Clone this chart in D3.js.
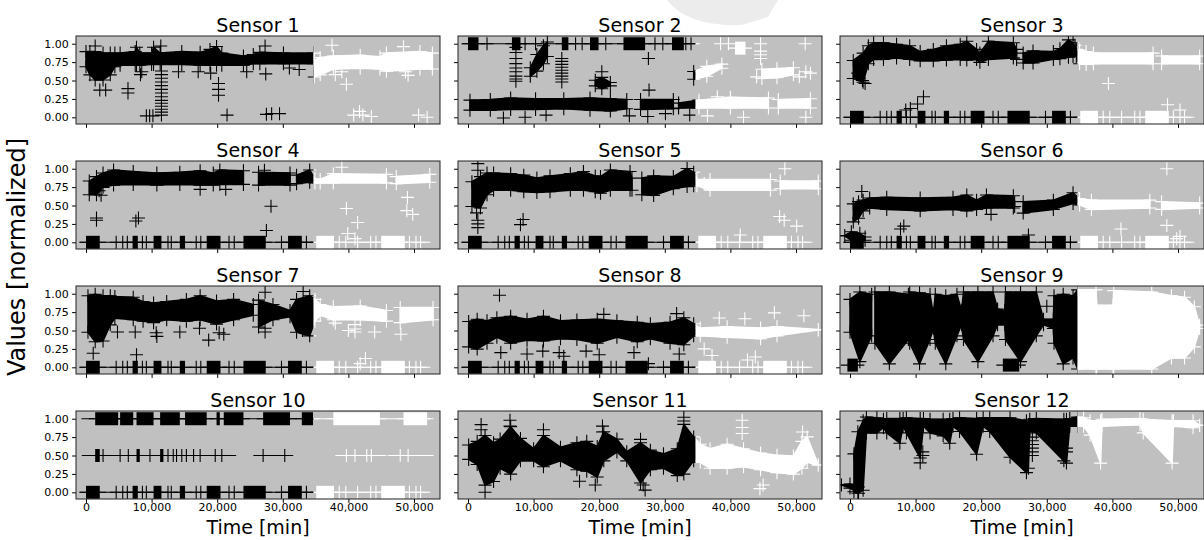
<!DOCTYPE html>
<html>
<head>
<meta charset="utf-8">
<script src="https://cdn.jsdelivr.net/npm/d3@7"></script>
<style>
  body { margin: 0; background: #fff; }
  text { font-family: "DejaVu Sans", sans-serif; fill: #000; }
</style>
</head>
<body>
<svg id="chart" width="1204" height="540"></svg>
<script>
// readings before SPLIT are the training part (black), after it the test part (white)
const SPLIT = 34700;
const xTicks = [0, 10000, 20000, 30000, 40000, 50000];
const yTicks = [0, 0.25, 0.5, 0.75, 1];

// machine stops: the same for several sensors (value 0)
const stopRuns = [[0, 2100], [7100, 7900], [10300, 11500], [14300, 15100], [18400, 20500],
  [24000, 27400], [30800, 32900], [35100, 37800], [45000, 48600]];
const stopTicks = [4600, 5600, 6300, 8600, 9200, 12500, 13000, 16800, 17500, 21800, 22600,
  29800, 33600, 38600, 39600, 41400, 43400, 44200, 49300, 50300, 51000];

// bands: [time, low, high], null breaks a band
const band1 = [[0, 0.66, 0.92], [600, 0.55, 0.92], [1400, 0.48, 0.92], [2600, 0.48, 0.90], [3700, 0.55, 0.90],
  [4400, 0.66, 0.90], [5200, 0.68, 0.90], [7500, 0.68, 0.92], [7700, 0.68, 0.98], [8200, 0.68, 0.90],
  [10000, 0.69, 0.90], [10300, 0.69, 0.98], [11300, 0.69, 0.90], [14600, 0.69, 0.92], [17400, 0.68, 0.91],
  [18900, 0.68, 0.95], [19900, 0.68, 0.99], [20700, 0.68, 0.90], [24000, 0.68, 0.86], [25500, 0.70, 0.88],
  [26500, 0.70, 0.91], [30100, 0.70, 0.90], [34700, 0.70, 0.90], [34800, 0.52, 0.80], [35700, 0.55, 0.84],
  [37700, 0.63, 0.86], [41800, 0.64, 0.87], [44800, 0.63, 0.85], [45800, 0.60, 0.90], [50900, 0.63, 0.92],
  [52800, 0.63, 0.90]];
const plus1 = [[1400, 0.97], [1500, 0.80], [2100, 0.37], [3000, 0.37], [6400, 0.39], [6400, 0.33], [8300, 0.58],
  [8500, 0.62], [9200, 0.02], [9700, 0.02], [10200, 0.02], [20200, 0.46], [20200, 0.38], [20200, 0.30],
  [21500, 0.03], [27300, 0.97], [27400, 0.59], [27500, 0.04], [28300, 0.05], [29500, 0.05], [14100, 0.62],
  [17100, 0.62], [19000, 0.60], [24500, 0.62], [31000, 0.67], [32500, 0.65], [11400, 0.97],
  [11500, 0.03], [11500, 0.07], [11500, 0.11], [11500, 0.15], [11500, 0.19], [11500, 0.23], [11500, 0.28],
  [11500, 0.33], [11500, 0.38], [11500, 0.43], [11500, 0.48], [11500, 0.53], [11500, 0.58], [11500, 0.63],
  [37500, 0.98], [38000, 0.70], [39700, 0.45], [38000, 0.58], [40800, 0.03], [41700, 0.08], [42200, 0.03],
  [43500, 0.01], [48400, 0.96], [49100, 0.57], [48700, 0.62], [50700, 0.03], [52000, 0.0], [39000, 0.62]];

const band2 = [[300, 0.07, 0.26], [3400, 0.07, 0.27], [6500, 0.08, 0.29], [10300, 0.08, 0.28], [14600, 0.09, 0.28],
  [18600, 0.07, 0.29], [21700, 0.06, 0.28], [24200, 0.09, 0.27], null,
  [26300, 0.08, 0.27], [31300, 0.09, 0.27], null,
  [32100, 0.10, 0.22], [35200, 0.10, 0.26], [40000, 0.10, 0.30], [45800, 0.10, 0.29], null,
  [47300, 0.10, 0.27], [52200, 0.10, 0.28], null,
  [9500, 0.53, 0.70], [10500, 0.60, 0.88], [11500, 0.70, 1.0], [12100, 0.80, 1.05], null,
  [19400, 0.40, 0.53], [20400, 0.36, 0.57], [21700, 0.40, 0.50], null,
  [34400, 0.49, 0.65], [36400, 0.53, 0.72], [38700, 0.64, 0.75], null,
  [44800, 0.50, 0.68], [47100, 0.51, 0.69], [49600, 0.55, 0.70]];
const runs2 = [[0, 1600, 1], [6700, 8000, 1], [14300, 15300, 1], [18600, 19900, 1], [23700, 27000, 1],
  [31100, 32900, 1], [40700, 42300, 0.94]];
const lines2 = [[100, 34400, 1]];
const plus2 = [[2900, 1], [8700, 1], [10300, 1], [16400, 1], [17400, 1], [21000, 1], [28500, 1], [29700, 1],
  [33200, 1], [34000, 1], [7300, 0.95], [7300, 0.88], [7300, 0.80], [7300, 0.73], [7300, 0.67], [7300, 0.62],
  [7300, 0.56], [7300, 0.52], [7300, 0.49], [14300, 0.80], [14300, 0.76], [14300, 0.72], [14300, 0.68],
  [14300, 0.64], [14300, 0.60], [14300, 0.56], [14300, 0.52], [14300, 0.48], [20400, 0.62], [27500, 0.80],
  [27600, 0.37], [5400, -0.01], [8700, 0.0], [11900, 0.03], [24600, 0.02], [27400, 0.01], [30100, 0.05],
  [33800, 0.03], [38500, 1.0], [39700, 1.0], [44600, 1.0], [51400, 1.0], [44600, 0.90], [44600, 0.85],
  [44600, 0.80], [44000, 0.55], [51500, 0.62], [52200, 0.60], [50500, 0.55], [36500, 0.02], [42000, 0.0],
  [51500, 0.0], [38000, 0.28]];

const band3 = [[500, 0.50, 0.80], [2000, 0.45, 0.90], [2800, 0.70, 1.00], [3600, 0.76, 1.04], [5100, 0.76, 1.04],
  [7100, 0.78, 1.02], [9100, 0.76, 1.00], [10700, 0.74, 0.92], [12700, 0.74, 0.95], [14700, 0.75, 1.00],
  [16800, 0.76, 1.02], [17800, 0.75, 1.06], [19300, 0.76, 0.95], [19800, 0.72, 0.90], [21100, 0.76, 1.06],
  [24900, 0.78, 1.04], [25400, 0.76, 0.95], null,
  [26400, 0.71, 0.90], [27900, 0.71, 0.93], [31000, 0.76, 0.92], [32000, 0.77, 0.96], [33300, 0.79, 1.08],
  [34000, 0.80, 1.04], [34500, 0.80, 0.95], [35000, 0.70, 0.94], [36000, 0.69, 0.92], [37100, 0.70, 0.90],
  [46200, 0.70, 0.90], null,
  [47500, 0.70, 0.86], [53300, 0.70, 0.86]];
const plus3 = [[11200, 0.28], [10300, 0.18], [9200, 0.12], [8500, 0.10], [2300, 0.46], [1900, 0.50], [1200, 0.60],
  [39400, 0.46], [48400, 0.17], [50300, 0.10], [34300, 0.98]];

const band4 = [[500, 0.62, 0.86], [1600, 0.62, 0.92], [2600, 0.72, 0.97], [4200, 0.75, 1.01], [7200, 0.76, 0.99],
  [10800, 0.75, 0.97], [14300, 0.76, 0.98], [17400, 0.75, 1.0], [19400, 0.75, 0.97], [20400, 0.76, 1.01],
  [24000, 0.76, 1.0], null,
  [26300, 0.75, 0.98], [31100, 0.75, 0.97], null,
  [32100, 0.77, 0.94], [34100, 0.79, 1.01], [34900, 0.78, 0.89], [35700, 0.78, 0.88], [37700, 0.78, 0.96],
  [45800, 0.78, 0.95], null,
  [47300, 0.77, 0.92], [52400, 0.79, 0.95]];
const plus4 = [[1600, 0.33], [1600, 0.30], [8000, 0.33], [7600, 0.29], [28200, 0.49], [27500, 0.16], [2300, 0.64],
  [2000, 0.70], [17400, 0.72], [21300, 0.72], [27200, 0.98], [39700, 0.46], [41400, 0.27], [49000, 0.61],
  [48900, 0.43], [49800, 0.38], [39900, 0.12], [41000, 0.05], [39000, 1.02]];

const band5 = [[600, 0.46, 0.85], [1900, 0.44, 0.92], [2900, 0.62, 0.97], [3900, 0.68, 0.97], [6500, 0.68, 0.96],
  [8500, 0.66, 0.94], [10500, 0.65, 0.90], [12500, 0.66, 0.93], [15600, 0.68, 0.96], [17600, 0.68, 0.99],
  [19400, 0.66, 0.93], [20200, 0.64, 0.92], [21700, 0.68, 1.01], [24700, 0.68, 0.99], [25000, 0.68, 0.90], null,
  [26500, 0.62, 0.90], [28300, 0.61, 0.93], [31300, 0.70, 0.92], [33400, 0.73, 1.03], [34400, 0.74, 0.98],
  [34900, 0.74, 0.88], [36900, 0.68, 0.88], [46100, 0.68, 0.88], null,
  [47600, 0.70, 0.86], [53400, 0.70, 0.86]];
const plus5 = [[1500, 1.07], [1500, 0.98], [1500, 0.30], [1500, 0.25], [1500, 0.20], [1300, 0.40], [8400, 0.31],
  [8000, 0.24], [48300, 1.0], [48200, 0.30], [50100, 0.22], [41500, 0.10], [47500, 0.35], [36000, 0.80]];

const band6 = [[-800, 0.06, 0.12], [200, 0.0, 0.17], [1500, -0.03, 0.15], [2300, 0.0, 0.10], null,
  [500, 0.25, 0.55], [1300, 0.30, 0.58], [2000, 0.40, 0.60], [3000, 0.44, 0.63], [5600, 0.42, 0.64],
  [10700, 0.40, 0.63], [15700, 0.42, 0.64], [17800, 0.40, 0.67], [19300, 0.42, 0.60], [20800, 0.44, 0.67],
  [24900, 0.44, 0.66], [25100, 0.46, 0.58], null,
  [26400, 0.37, 0.58], [31000, 0.42, 0.60], [34000, 0.50, 0.70], [35000, 0.48, 0.62], [36800, 0.42, 0.60],
  [45700, 0.44, 0.60], null,
  [47500, 0.42, 0.58], [53300, 0.44, 0.56]];
const plus6 = [[1800, 0.69], [8200, 0.22], [7700, 0.18], [27200, 0.10], [48300, 1.0], [41300, 0.18],
  [48300, 0.23], [50300, 0.08], [49800, 0.05], [21500, 0.38]];

const band7 = [[300, 0.45, 1.0], [1400, 0.32, 1.02], [2600, 0.33, 1.0], [3700, 0.55, 1.0], [4400, 0.64, 0.99],
  [7200, 0.62, 0.98], [8700, 0.60, 0.92], [10300, 0.58, 0.90], [12300, 0.62, 0.92], [15300, 0.60, 0.95],
  [17400, 0.62, 1.0], [19900, 0.56, 0.93], [22500, 0.62, 0.95], [25500, 0.68, 0.88], null,
  [26300, 0.52, 0.94], [28500, 0.62, 0.88], [31100, 0.66, 0.80], [32100, 0.45, 0.95], [34100, 0.40, 1.0],
  [34900, 0.60, 0.95], [35700, 0.68, 0.88], [37700, 0.62, 0.85], [41800, 0.62, 0.86], [45800, 0.60, 0.80], null,
  [47900, 0.58, 0.84], [52900, 0.62, 0.84]];
const plus7 = [[1100, 0.19], [7700, 0.17], [4800, 0.48], [7500, 0.48], [10800, 0.42], [10700, 0.47], [18700, 0.37],
  [14300, 0.48], [20300, 0.47], [27300, 1.02], [27300, 0.53], [27300, 0.48], [33100, 1.03], [33000, 0.55],
  [33000, 0.50], [21000, 0.45], [17300, 0.53], [41000, 0.58], [41000, 0.52], [41000, 0.48], [40000, 0.50],
  [44000, 0.48], [48000, 0.45], [42600, 0.12], [41800, 0.05], [38000, 0.60]];

const band8 = [[100, 0.25, 0.65], [1400, 0.22, 0.68], [2900, 0.30, 0.66], [4400, 0.38, 0.70], [6500, 0.30, 0.72],
  [9000, 0.34, 0.68], [11500, 0.33, 0.72], [14100, 0.36, 0.66], [16600, 0.35, 0.67], [19700, 0.30, 0.68],
  [22700, 0.38, 0.66], [25800, 0.32, 0.64], [27800, 0.36, 0.62], [30800, 0.30, 0.64], [32900, 0.28, 0.70],
  [34400, 0.40, 0.62], [35400, 0.40, 0.56], [39500, 0.38, 0.58], [44600, 0.36, 0.56], [47100, 0.40, 0.58],
  [53400, 0.48, 0.54]];
const plus8 = [[4800, 0.98], [5000, 0.20], [9000, 0.18], [13900, 0.20], [18000, 0.22], [20000, 0.17], [25300, 0.20],
  [32200, 0.18], [11400, 0.22], [14600, 0.15], [31800, 0.73], [20700, 0.72], [27500, 0.05], [38300, 0.67],
  [42200, 0.66], [46700, 0.74], [51200, 0.70], [37200, 0.16], [42600, 0.10], [43800, 0.14], [36000, 0.25]];

const band9 = [[0, 0.45, 0.95], [1500, 0.05, 1.05], [3300, 0.40, 1.02], null,
  [3800, 0.30, 1.05], [6000, 0.02, 1.05], [8900, 0.35, 1.02], null,
  [9100, 0.30, 1.05], [10600, 0.02, 1.04], [12200, 0.35, 1.02], [12700, 0.50, 0.75], [13000, 0.30, 1.02],
  [14600, 0.02, 1.0], [16300, 0.40, 1.02], [17000, 0.55, 0.80], [17300, 0.35, 1.05], [19500, 0.05, 1.05],
  [21800, 0.40, 1.05], [22500, 0.55, 0.82], [23600, 0.55, 0.80], [23700, 0.35, 1.05], [26000, 0.05, 1.05],
  [28400, 0.40, 1.05], [29500, 0.55, 0.68], [31000, 0.50, 0.68], [31100, 0.30, 1.0], [32500, 0.02, 1.02],
  [34000, 0.10, 1.0], [34700, -0.05, 1.08], [37500, -0.05, 1.08], [37600, -0.05, 0.87], [40100, -0.05, 0.87],
  [40200, -0.05, 1.07], [46000, -0.05, 1.05], [49000, 0.10, 1.0], [51000, 0.10, 0.98], [52500, 0.25, 0.85],
  [53300, 0.50, 0.60]];
const runs9 = [[-400, 1200, 0.03], [23300, 25800, 0.03]];
const plus9 = [[30000, 0.83], [13500, 0.75]];

const runs10 = [[1400, 4900, 1], [5200, 7200, 1], [7700, 10300, 1], [11300, 14300, 1], [15100, 18400, 1],
  [19900, 20400, 1], [21000, 24000, 1], [27000, 31100, 1], [32900, 34600, 1], [37700, 44800, 1],
  [48400, 52000, 1], [1400, 2100, 0.5], [7700, 8200, 0.5], [11300, 11800, 0.5]];
const lines10 = [[300, 51500, 1], [350, 21900, 0.5], [26500, 30600, 0.5], [39000, 44800, 0.5],
  [47000, 52000, 0.5]];
const plus10 = [[2600, 0.5], [5200, 0.5], [6450, 0.5], [9750, 0.5], [12500, 0.5], [13300, 0.5], [13800, 0.5],
  [14600, 0.5], [15300, 0.5], [16400, 0.5], [17400, 0.5], [19700, 0.5], [20700, 0.5], [27000, 0.5],
  [30300, 0.5], [39700, 0.5], [41000, 0.5], [42800, 0.5], [43500, 0.5], [47900, 0.5], [49100, 0.5]];

const band11 = [[100, 0.42, 0.67], [1400, 0.35, 0.72], [2600, 0.07, 0.80], [3900, 0.12, 0.70], [4900, 0.30, 0.75],
  [6500, 0.22, 0.92], [8000, 0.40, 0.76], [10000, 0.40, 0.62], [11500, 0.32, 0.80], [14100, 0.40, 0.64],
  [16600, 0.28, 0.70], [18100, 0.26, 0.72], [19700, 0.18, 0.65], [20700, 0.40, 0.85], [22700, 0.52, 0.75],
  [24200, 0.40, 0.58], [26300, 0.10, 0.70], [27800, 0.28, 0.60], [29800, 0.30, 0.55], [31900, 0.20, 0.62],
  [32900, 0.22, 0.95], [34400, 0.40, 0.78], [35400, 0.38, 0.68], [36900, 0.30, 0.62], [39500, 0.30, 0.68],
  [42000, 0.32, 0.62], [44600, 0.28, 0.56], [47100, 0.24, 0.53], [49600, 0.22, 0.52], [50900, 0.30, 0.72],
  [51700, 0.38, 0.78], [53400, 0.34, 0.40]];
const plus11 = [[2000, 0.92], [2000, 0.85], [6400, 0.98], [6400, 0.90], [11500, 0.85], [20500, 0.90], [20500, 0.82],
  [26300, 0.72], [27000, 0.03], [26700, 0.10], [32900, 1.02], [32900, 0.97], [2600, 0.0], [19400, 0.1],
  [17000, 0.15], [41800, 0.98], [41800, 0.88], [41800, 0.80], [51000, 0.82], [44500, 0.05], [45000, 0.10],
  [39500, 0.62]];

const band12 = [[-1300, 0.08, 0.12], [0, 0.03, 0.14], [1300, -0.04, 0.10], null,
  [600, -0.02, 0.55], [1200, -0.04, 0.85], [2000, 0.0, 1.0], [2500, 0.78, 1.05], [4100, 0.78, 1.04],
  [5100, 0.85, 1.02], [5600, 0.78, 1.03], [7600, 0.64, 1.03], [8100, 0.87, 1.03], [8600, 0.78, 1.04],
  [10700, 0.44, 1.03], [11200, 0.87, 1.03], [12200, 0.78, 1.02], [14200, 0.74, 1.02], [15200, 0.64, 1.02],
  [15700, 0.87, 1.03], [16700, 0.80, 1.04], [19300, 0.49, 1.03], [20300, 0.87, 1.04], [21300, 0.80, 1.04],
  [24400, 0.45, 1.04], [26900, 0.24, 1.0], [27200, 0.30, 0.95], [27400, 0.82, 1.02], [28400, 0.78, 1.03],
  [32600, 0.40, 1.02], [33000, 0.37, 1.02], [33500, 0.87, 1.03], [34700, 0.87, 1.05], [35600, 0.87, 1.04],
  [36600, 0.75, 1.0], [38200, 0.37, 1.0], [38400, 0.87, 1.02], [44200, 0.89, 1.03], [44700, 0.78, 1.02],
  [49100, 0.37, 1.0], [49300, 0.87, 1.0], [52300, 0.85, 1.0], [53300, 0.88, 0.94]];
const plus12 = [[27800, 0.75], [27800, 0.70], [27800, 0.65], [27800, 0.60], [27800, 0.55], [27800, 0.50],
  [10700, 0.40], [11100, 0.55], [11100, 0.50], [33000, 0.55], [33000, 0.60]];

const zeroRuns = stopRuns.map(([a, b]) => [a, b, 0]);
const zeroTicks = stopTicks.map(t => [t, 0]);
const zeroLines = [[0, 51500, 0]];

const sensors = [
  {name: 'Sensor 1', band: band1, runs: [], lines: [], plus: plus1},
  {name: 'Sensor 2', band: band2, runs: runs2, lines: lines2, plus: plus2},
  {name: 'Sensor 3', band: band3, runs: zeroRuns, lines: zeroLines, plus: plus3.concat(zeroTicks)},
  {name: 'Sensor 4', band: band4, runs: zeroRuns, lines: zeroLines, plus: plus4.concat(zeroTicks)},
  {name: 'Sensor 5', band: band5, runs: zeroRuns, lines: zeroLines, plus: plus5.concat(zeroTicks)},
  {name: 'Sensor 6', band: band6, runs: zeroRuns, lines: zeroLines, plus: plus6.concat(zeroTicks)},
  {name: 'Sensor 7', band: band7, runs: zeroRuns, lines: zeroLines, plus: plus7.concat(zeroTicks)},
  {name: 'Sensor 8', band: band8, runs: zeroRuns, lines: zeroLines, plus: plus8.concat(zeroTicks)},
  {name: 'Sensor 9', band: band9, runs: runs9, lines: [], plus: plus9},
  {name: 'Sensor 10', band: [], runs: runs10.concat(zeroRuns), lines: lines10.concat(zeroLines), plus: plus10.concat(zeroTicks)},
  {name: 'Sensor 11', band: band11, runs: [], lines: [], plus: plus11},
  {name: 'Sensor 12', band: band12, runs: [], lines: [], plus: plus12}
];

// layout
const W = 364, H = 88, M = 6.5;   // M: half size of a "+" marker
const INSET = 2;                  // band drawn this much inside, the edge markers reach out
const colStep = 382, rowStep = 125, left0 = 76, top0 = 36;

const svg = d3.select('#chart');

const x = d3.scaleLinear().domain([-1524, 53963]).range([0, W]);
const y = d3.scaleLinear().domain([-0.091, 1.105]).range([H, 0]);
const xs = x(SPLIT);

const defs = svg.append('defs');
defs.append('clipPath').attr('id', 'clipTrain')
  .append('rect').attr('x', 0).attr('y', 0).attr('width', xs).attr('height', H);
defs.append('clipPath').attr('id', 'clipTest')
  .append('rect').attr('x', xs).attr('y', 0).attr('width', W - xs).attr('height', H);

// faint shape at the top of the picture
svg.append('path')
  .attr('d', 'M667,0 Q688,27 742,25 L768,17 L778,0 Z')
  .attr('fill', '#ececec');

// pixel edges of a band point, pulled inward but never crossing
const lowPx = d => {
  const a = y(d[1]), b = y(d[2]);
  return (a - b > 2 * INSET) ? a - INSET : (a + b) / 2;
};
const highPx = d => {
  const a = y(d[1]), b = y(d[2]);
  return (a - b > 2 * INSET) ? b + INSET : (a + b) / 2;
};

const area = d3.area()
  .defined(d => d !== null)
  .x(d => x(d[0]))
  .y0(lowPx)
  .y1(highPx);

const plusAt = (px, py) => `M${px - M},${py}H${px + M}M${px},${py - M}V${py + M}`;

sensors.forEach((s, i) => {
  const row = Math.floor(i / 3), col = i % 3;
  const g = svg.append('g')
    .attr('transform', `translate(${left0 + col * colStep},${top0 + row * rowStep})`);

  g.append('rect')
    .attr('width', W)
    .attr('height', H)
    .attr('fill', '#c0c0c0');

  let marks = s.plus.map(d => plusAt(x(d[0]), y(d[1]))).join('');
  s.band.forEach(d => {
    if (d) {
      marks += plusAt(x(d[0]), lowPx(d)) + plusAt(x(d[0]), highPx(d));
    }
  });

  [['clipTrain', '#000'], ['clipTest', '#fff']].forEach(([clip, color]) => {
    const layer = g.append('g').attr('clip-path', `url(#${clip})`);

    layer.append('path')
      .datum(s.band)
      .attr('d', area)
      .attr('fill', color)
      .attr('stroke', color)
      .attr('stroke-width', 1.5)
      .attr('stroke-linejoin', 'round');

    layer.selectAll('.run')
      .data(s.runs)
      .enter()
      .append('rect')
      .attr('x', d => x(d[0]))
      .attr('y', d => y(d[2]) - M)
      .attr('width', d => x(d[1]) - x(d[0]))
      .attr('height', 2 * M)
      .attr('fill', color);

    layer.selectAll('.arm')
      .data(s.runs.concat(s.lines))
      .enter()
      .append('line')
      .attr('x1', d => x(d[0]) - M)
      .attr('x2', d => x(d[1]) + M)
      .attr('y1', d => y(d[2]))
      .attr('y2', d => y(d[2]))
      .attr('stroke', color)
      .attr('stroke-width', 1.1);

    layer.append('path')
      .attr('d', marks)
      .attr('fill', 'none')
      .attr('stroke', color)
      .attr('stroke-width', 1.1);
  });

  // axes
  const xAxis = d3.axisBottom(x)
    .tickValues(xTicks)
    .tickSize(3.9)
    .tickPadding(0.5)
    .tickFormat(row === 3 ? d3.format(',') : () => '');
  const yAxis = d3.axisLeft(y)
    .tickValues(yTicks)
    .tickSize(3.9)
    .tickPadding(3.3)
    .tickFormat(col === 0 ? d3.format('.2f') : () => '');

  const gx = g.append('g').attr('transform', `translate(0,${H})`).call(xAxis);
  const gy = g.append('g').call(yAxis);
  [gx, gy].forEach(a => {
    a.select('.domain').remove();
    a.selectAll('line').attr('stroke', '#000');
    a.selectAll('text')
      .attr('font-size', '11px')
      .style('font-family', '"DejaVu Sans", sans-serif');
  });

  g.append('rect')
    .attr('width', W)
    .attr('height', H)
    .attr('fill', 'none')
    .attr('stroke', '#222')
    .attr('stroke-width', 1);

  g.append('text')
    .attr('x', W / 2)
    .attr('y', -4.5)
    .attr('text-anchor', 'middle')
    .attr('font-size', '19px')
    .text(s.name);

  if (row === 3) {
    g.append('text')
      .attr('x', W / 2)
      .attr('y', H + 35)
      .attr('text-anchor', 'middle')
      .attr('font-size', '19px')
      .text('Time [min]');
  }
});

svg.append('text')
  .attr('transform', 'translate(25,257) rotate(-90)')
  .attr('text-anchor', 'middle')
  .attr('font-size', '24px')
  .text('Values [normalized]');
</script>
</body>
</html>
